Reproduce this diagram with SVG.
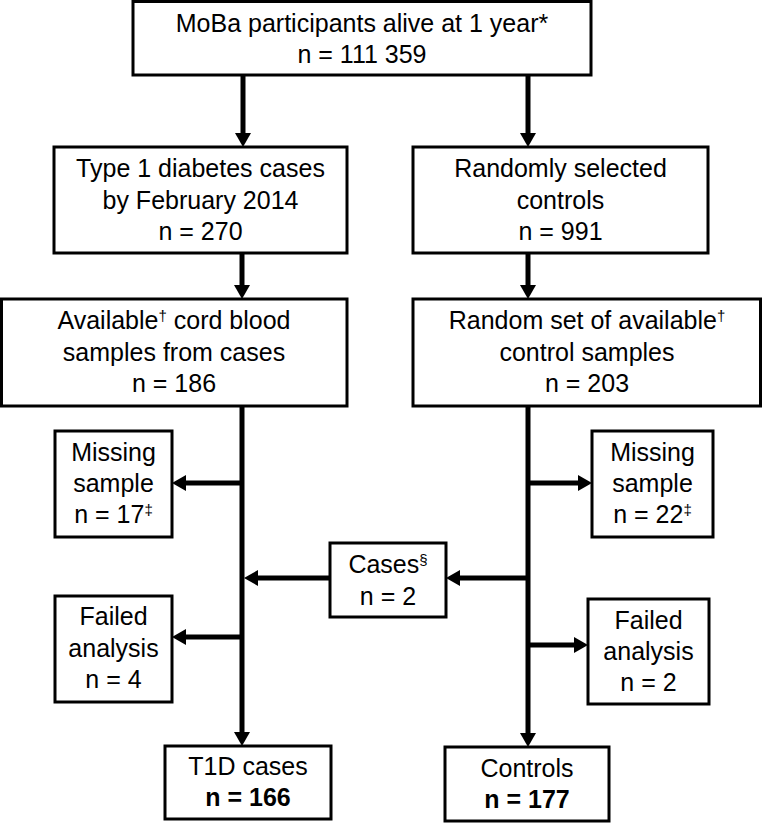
<svg xmlns="http://www.w3.org/2000/svg" width="762" height="823" viewBox="0 0 762 823">
<style>
.box{fill:#fff;stroke:#000;stroke-width:3}
text{font-family:"Liberation Sans",Arial,sans-serif;font-size:25px;fill:#000;text-anchor:middle}
.b{font-weight:bold}
.sup{font-size:15px}
.c{fill:none;stroke:#000;stroke-width:5}
</style>
<defs>
<marker id="ah" markerUnits="userSpaceOnUse" markerWidth="14" markerHeight="16" refX="4" refY="8" orient="auto">
<path d="M0,0 L14,8 L0,16 z" fill="#000"/>
</marker>
</defs>
<rect width="762" height="823" fill="#fff"/>
<g id="connectors">
<path class="c" d="M243,75 V137" marker-end="url(#ah)"/>
<path class="c" d="M528,75 V137" marker-end="url(#ah)"/>
<path class="c" d="M242,253 V289" marker-end="url(#ah)"/>
<path class="c" d="M528,253 V289" marker-end="url(#ah)"/>
<path class="c" d="M242,406 V736" marker-end="url(#ah)"/>
<path class="c" d="M528,406 V737" marker-end="url(#ah)"/>
<path class="c" d="M244,483 H182" marker-end="url(#ah)"/>
<path class="c" d="M526,483 H582" marker-end="url(#ah)"/>
<path class="c" d="M330,578 H254" marker-end="url(#ah)"/>
<path class="c" d="M530,578 H456" marker-end="url(#ah)"/>
<path class="c" d="M244,637 H182" marker-end="url(#ah)"/>
<path class="c" d="M526,645 H578" marker-end="url(#ah)"/>
</g>
<g id="moba">
<rect class="box" x="133" y="1.5" width="458" height="73.5"/>
<text x="362" y="32">MoBa participants alive at 1 year*</text>
<text x="362" y="63">n = 111 359</text>
</g>
<g id="t1d-cases-2014">
<rect class="box" x="54" y="147" width="293" height="106"/>
<text x="200.5" y="177">Type 1 diabetes cases</text>
<text x="200.5" y="208.5">by February 2014</text>
<text x="200.5" y="240">n = 270</text>
</g>
<g id="random-controls">
<rect class="box" x="413" y="147" width="295" height="106"/>
<text x="560.5" y="177">Randomly selected</text>
<text x="560.5" y="208.5">controls</text>
<text x="560.5" y="240">n = 991</text>
</g>
<g id="available-cases">
<rect class="box" x="1.5" y="299" width="345.5" height="107"/>
<text x="174" y="329">Available<tspan class="sup" dy="-8">†</tspan><tspan dy="8"> cord blood</tspan></text>
<text x="174" y="361">samples from cases</text>
<text x="174" y="392">n = 186</text>
</g>
<g id="available-controls">
<rect class="box" x="413" y="299" width="347.5" height="107"/>
<text x="587" y="329">Random set of available<tspan class="sup" dy="-8">†</tspan></text>
<text x="587" y="361">control samples</text>
<text x="587" y="392">n = 203</text>
</g>
<g id="missing-cases">
<rect class="box" x="55" y="431" width="117" height="106"/>
<text x="113.5" y="461">Missing</text>
<text x="113.5" y="492">sample</text>
<text x="113.5" y="523">n = 17<tspan class="sup" dy="-8">‡</tspan></text>
</g>
<g id="missing-controls">
<rect class="box" x="592" y="431" width="121" height="106"/>
<text x="652.5" y="461">Missing</text>
<text x="652.5" y="492">sample</text>
<text x="652.5" y="523">n = 22<tspan class="sup" dy="-8">‡</tspan></text>
</g>
<g id="cases-moved">
<rect class="box" x="330" y="543" width="116" height="74"/>
<text x="388" y="573">Cases<tspan class="sup" dy="-8">§</tspan></text>
<text x="388" y="605">n = 2</text>
</g>
<g id="failed-cases">
<rect class="box" x="55" y="596" width="117" height="106"/>
<text x="113.5" y="625">Failed</text>
<text x="113.5" y="657">analysis</text>
<text x="113.5" y="688">n = 4</text>
</g>
<g id="failed-controls">
<rect class="box" x="588" y="599" width="121" height="105"/>
<text x="648.5" y="629">Failed</text>
<text x="648.5" y="660">analysis</text>
<text x="648.5" y="691">n = 2</text>
</g>
<g id="t1d-final">
<rect class="box" x="165" y="746" width="166" height="73"/>
<text x="248" y="775">T1D cases</text>
<text class="b" x="248" y="806">n = 166</text>
</g>
<g id="controls-final">
<rect class="box" x="445" y="747" width="164" height="74"/>
<text x="527" y="777">Controls</text>
<text class="b" x="527" y="808">n = 177</text>
</g>
</svg>
